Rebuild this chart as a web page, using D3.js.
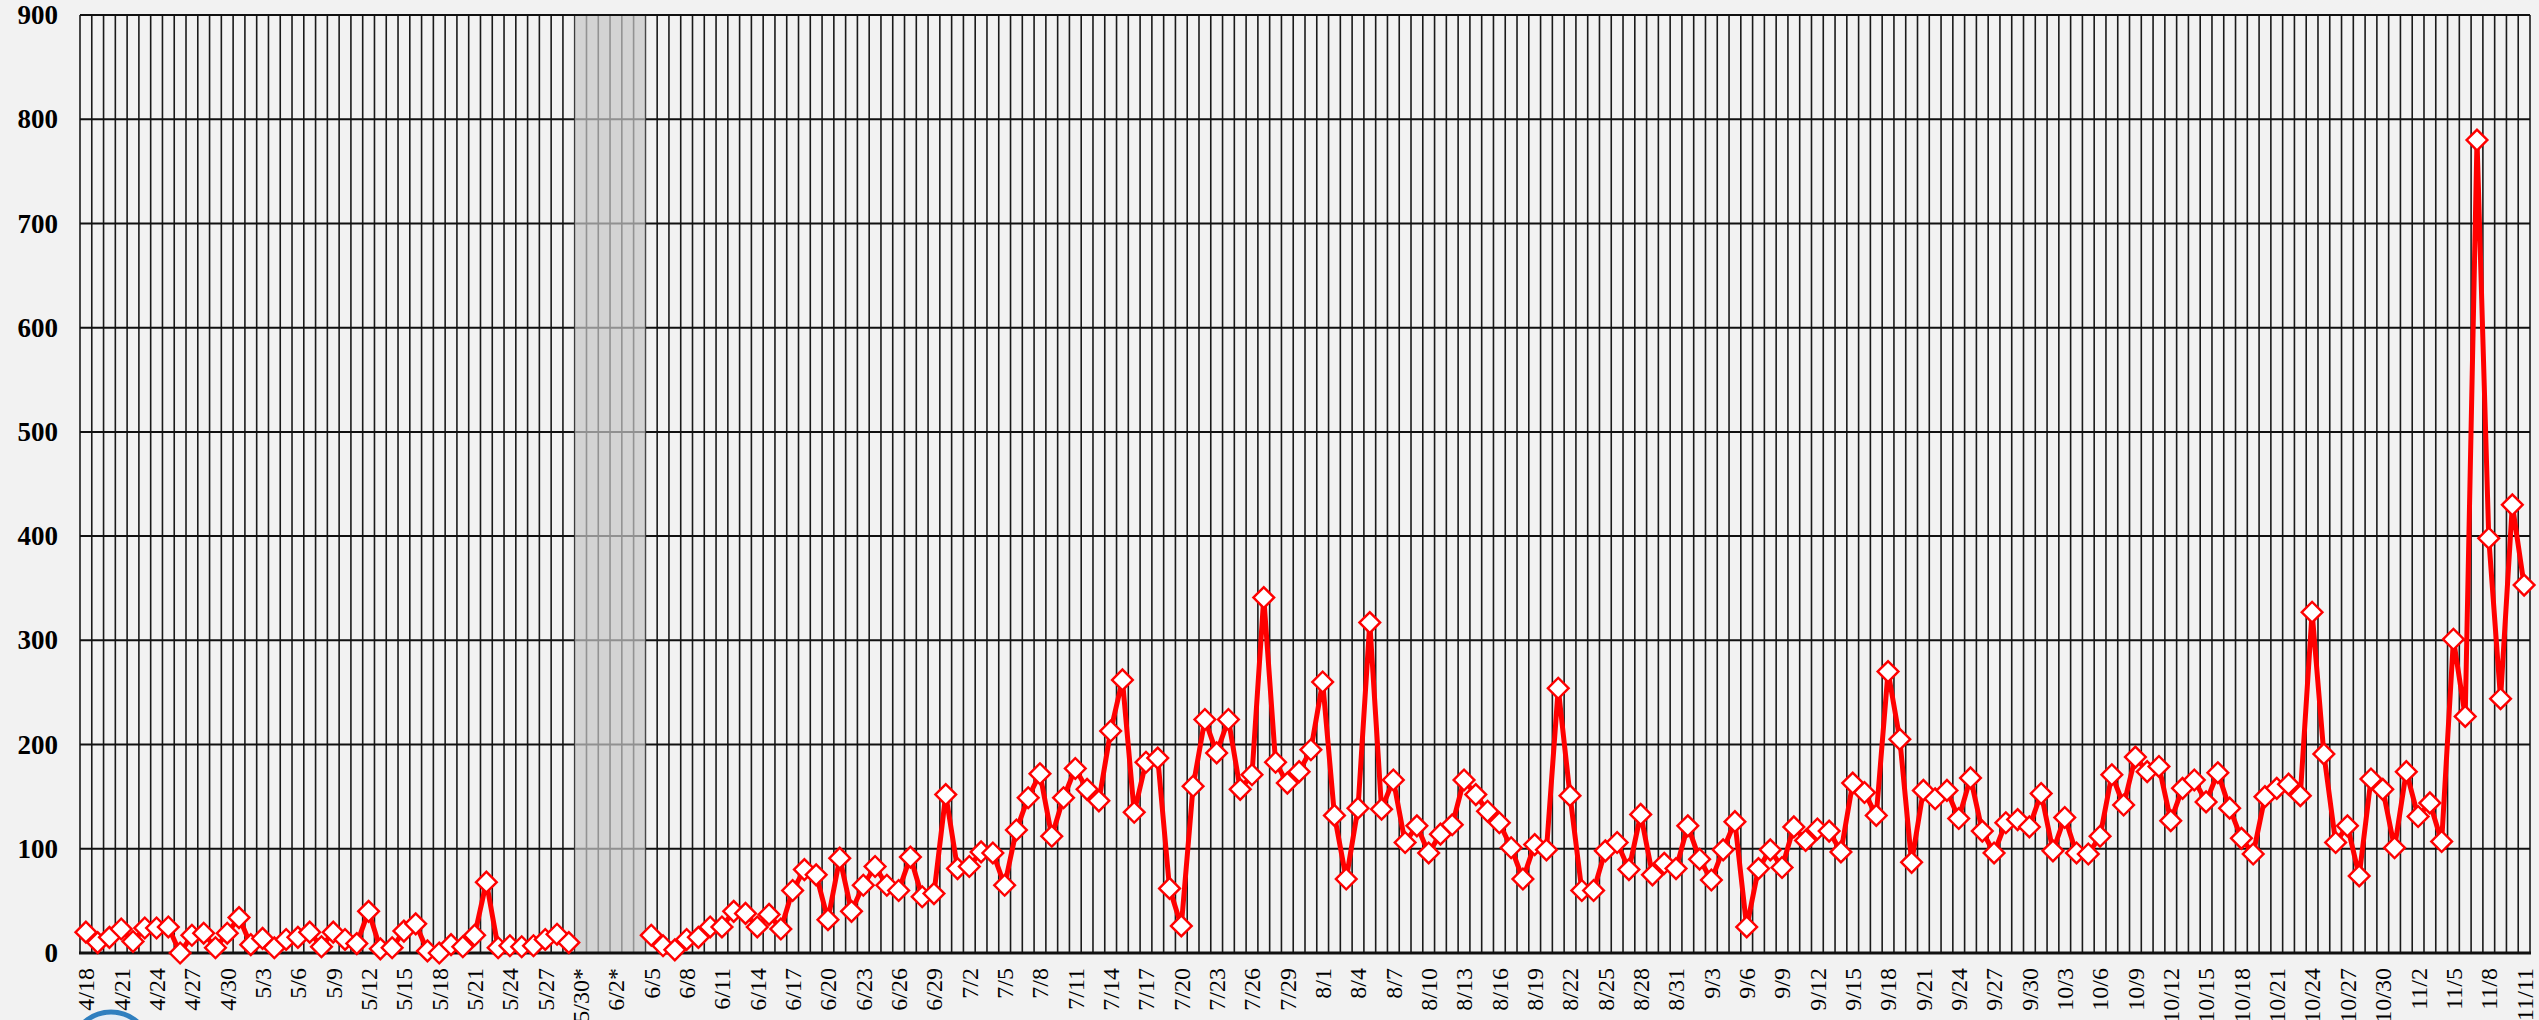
<!DOCTYPE html>
<html>
<head>
<meta charset="utf-8">
<script src="https://cdn.jsdelivr.net/npm/d3@7"></script>
<style>
  body { margin: 0; background: #f2f2f2; }
  svg { display: block; }
</style>
</head>
<body>
<svg id="chart" width="2539" height="1020"></svg>
<script>
// daily counts, 4/18 .. 11/11 (null = no data, shaded period)
const firstDay = "2021-04-18";
const lastDay = "2021-11-11";
const gapDays = ["5/30", "5/31", "6/1", "6/2", "6/3", "6/4"];
const aprVals = [20, 10, 15, 23, 11, 24, 24, 25, 0, 17, 19, 5, 19];
const mayVals = [34, 8, 14, 5, 13, 15, 20, 6, 20, 13, 9, 40, 4, 5, 21, 28, 2, 0, 8, 6, 17, 68, 5, 7, 6, 7, 13, 18, 10, null, null];
const junVals = [null, null, null, null, 17, 7, 3, 13, 15, 25, 25, 40, 38, 25, 37, 23, 60, 80, 75, 32, 91, 40, 65, 83, 65, 60, 92, 54, 57, 152];
const julVals = [81, 83, 97, 96, 65, 118, 149, 172, 112, 149, 177, 157, 146, 213, 262, 135, 183, 187, 62, 26, 160, 224, 192, 224, 157, 171, 341, 183, 163, 174, 195];
const augVals = [260, 132, 71, 139, 317, 138, 166, 106, 122, 96, 114, 123, 166, 152, 136, 125, 101, 71, 104, 99, 254, 151, 60, 60, 98, 106, 80, 133, 75, 86, 81];
const sepVals = [122, 90, 70, 99, 126, 25, 81, 99, 82, 121, 108, 119, 117, 97, 163, 154, 132, 270, 205, 87, 156, 148, 156, 129, 168, 117, 96, 125, 128, 121];
const octVals = [153, 98, 130, 96, 95, 112, 171, 142, 188, 174, 179, 127, 158, 166, 145, 173, 139, 110, 95, 150, 158, 162, 151, 327, 191, 106, 122, 74, 167, 157, 101];
const novVals = [174, 131, 144, 107, 301, 227, 780, 398, 244, 430, 353];
const yTicks = [0, 100, 200, 300, 400, 500, 600, 700, 800, 900];

const fmt = d3.timeFormat("%-m/%-d");
const days = d3.timeDay.range(new Date(firstDay + "T00:00"), d3.timeDay.offset(new Date(lastDay + "T00:00"), 1)).map(fmt);
const vals = [].concat(aprVals, mayVals, junVals, julVals, augVals, sepVals, octVals, novVals);
const data = days.map((d, i) => ({day: d, value: vals[i]}));

const svg = d3.select("#chart");
const margin = {left: 80, right: 9, top: 15, bottom: 67};
const W = 2539, H = 1020;

const x = d3.scaleBand().domain(days).range([margin.left, W - margin.right]).padding(0);
const y = d3.scaleLinear().domain([0, 900]).range([H - margin.bottom, margin.top]);

// grid: vertical lines on every day boundary
const g = svg.append("g");
const bounds = days.map(d => x(d)).concat([x.range()[1]]);
g.selectAll(".vgrid")
    .data(bounds)
    .join("line")
    .attr("class", "vgrid")
    .attr("x1", d => d).attr("x2", d => d)
    .attr("y1", y(900)).attr("y2", y(0))
    .attr("stroke", "#1a1a1a")
    .attr("stroke-width", 1.6);

g.selectAll(".hgrid")
    .data(yTicks.filter(d => d > 0))
    .join("line")
    .attr("class", "hgrid")
    .attr("x1", x.range()[0]).attr("x2", x.range()[1])
    .attr("y1", d => y(d)).attr("y2", d => y(d))
    .attr("stroke", "#111")
    .attr("stroke-width", 2);

// shaded no-data period
g.append("rect")
    .attr("x", x(gapDays[0]))
    .attr("width", x.bandwidth() * gapDays.length)
    .attr("y", y(900) + 1)
    .attr("height", y(0) - y(900) - 1)
    .attr("fill", "#c6c6c6")
    .attr("fill-opacity", 0.7);

// x axis baseline
g.append("line")
    .attr("x1", x.range()[0] - 1).attr("x2", x.range()[1] + 1)
    .attr("y1", y(0)).attr("y2", y(0))
    .attr("stroke", "#111")
    .attr("stroke-width", 3);

// y axis
const yAxis = svg.append("g")
    .attr("transform", `translate(${margin.left},0)`)
    .call(d3.axisLeft(y).tickValues(yTicks).tickSize(0).tickPadding(22).tickFormat(d3.format("d")));
yAxis.select(".domain").remove();
yAxis.selectAll("text")
    .style("font-family", "'Liberation Serif', 'Times New Roman', serif")
    .style("font-size", "27px")
    .style("font-weight", "bold")
    .attr("fill", "#000");

// x axis, every third day
const xAxis = svg.append("g")
    .attr("transform", `translate(0,${y(0)})`)
    .call(d3.axisBottom(x).tickValues(days.filter((d, i) => i % 3 === 0)).tickSize(0)
        .tickFormat(d => gapDays.includes(d) ? d + "*" : d));
xAxis.select(".domain").remove();
xAxis.selectAll("text")
    .style("font-family", "'Liberation Serif', 'Times New Roman', serif")
    .style("font-size", "24px")
    .attr("fill", "#000")
    .attr("text-anchor", "end")
    .attr("transform", "rotate(-90)")
    .attr("x", -15)
    .attr("y", 0)
    .attr("dy", "0.35em");

// series
const line = d3.line()
    .defined(d => d.value != null)
    .x(d => x(d.day) + x.bandwidth() / 2)
    .y(d => y(d.value));

svg.append("path")
    .datum(data)
    .attr("d", line)
    .attr("fill", "none")
    .attr("stroke", "#ff0000")
    .attr("stroke-width", 5)
    .attr("stroke-linejoin", "round");

svg.selectAll(".dot")
    .data(data.filter(d => d.value != null))
    .join("path")
    .attr("class", "dot")
    .attr("d", d3.symbol(d3.symbolSquare, 215))
    .attr("transform", d => `translate(${x(d.day) + x.bandwidth() / 2},${y(d.value)}) rotate(45)`)
    .attr("fill", "#fff")
    .attr("stroke", "#ff0000")
    .attr("stroke-width", 2.4);

// partial logo at bottom left
svg.append("circle")
    .attr("cx", 111).attr("cy", 1052).attr("r", 40)
    .attr("fill", "#e3ecf5")
    .attr("stroke", "#2f7fbf")
    .attr("stroke-width", 5);
</script>
</body>
</html>
